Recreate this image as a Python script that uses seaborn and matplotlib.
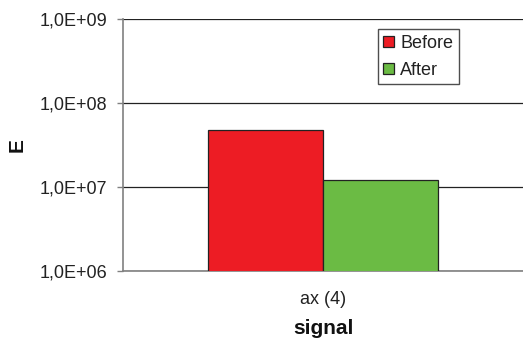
import math
import matplotlib
matplotlib.use("Agg")
import matplotlib.pyplot as plt
import matplotlib.ticker as mticker
import seaborn as sns
import pandas as pd

categories = ["ax (4)"]
series = ["Before", "After"]
before_values = [4.8e7]
after_values = [1.2e7]
colors = ["#ED1C24", "#6BBB44"]
y_ticks = [1e6, 1e7, 1e8, 1e9]

df = pd.DataFrame({
    "signal": categories * 2,
    "state": [series[0]] * len(categories) + [series[1]] * len(categories),
    "E": before_values + after_values,
})

sns.set_style("white")
plt.rcParams["font.family"] = ["Liberation Sans", "DejaVu Sans"]

fig = plt.figure(figsize=(5.23, 3.43), dpi=100)
ax = fig.add_axes([123 / 523, 1 - 271 / 343, 400 / 523, (271 - 18.7) / 343])

sns.barplot(data=df, x="signal", y="E", hue="state", hue_order=series,
            palette=colors, width=0.573, edgecolor="#222222", linewidth=0.9,
            saturation=1, ax=ax, zorder=3)

ax.set_yscale("log")
ax.set_ylim(1e6, 1e9)
ax.set_xlim(-0.5, 0.5)
ax.yaxis.set_major_locator(mticker.FixedLocator(y_ticks))
ax.yaxis.set_minor_locator(mticker.NullLocator())


def fmt(v, pos):
    exp = int(round(math.log10(v)))
    return f"1,0E+{exp:02d}"


ax.yaxis.set_major_formatter(mticker.FuncFormatter(fmt))
ax.grid(axis="y", which="major", color="#222222", linewidth=0.9, zorder=0)
ax.set_axisbelow(True)

for side in ["top", "right"]:
    ax.spines[side].set_visible(False)
ax.spines["left"].set_color("#808080")
ax.spines["left"].set_linewidth(1.2)
ax.spines["bottom"].set_color("#808080")
ax.spines["bottom"].set_linewidth(1.2)

ax.tick_params(axis="y", which="major", left=True, length=4.3, width=1,
               color="#808080", labelsize=13, pad=7, labelcolor="#222222")
ax.tick_params(axis="x", bottom=False, labelsize=13, pad=11, labelcolor="#222222")

ax.set_xlabel("signal", fontsize=15, fontweight="bold", labelpad=8, color="#111111")
ax.set_ylabel("E", fontsize=15, fontweight="bold", color="#111111")
ax.yaxis.set_label_coords(-(123 - 27) / 400, 0.5)

leg = ax.legend(loc="upper left",
                bbox_to_anchor=((377.7 - 123) / 400, 1 - (29.3 - 18.7) / 252.3),
                frameon=True, fancybox=False, fontsize=13, handlelength=0.6,
                handleheight=0.6, handletextpad=0.35, borderpad=0.3,
                labelspacing=0.55, borderaxespad=0)
leg.get_frame().set_edgecolor("#222222")
leg.get_frame().set_linewidth(1.0)
for t in leg.get_texts():
    t.set_color("#222222")

fig.savefig("out.png", dpi=100)
